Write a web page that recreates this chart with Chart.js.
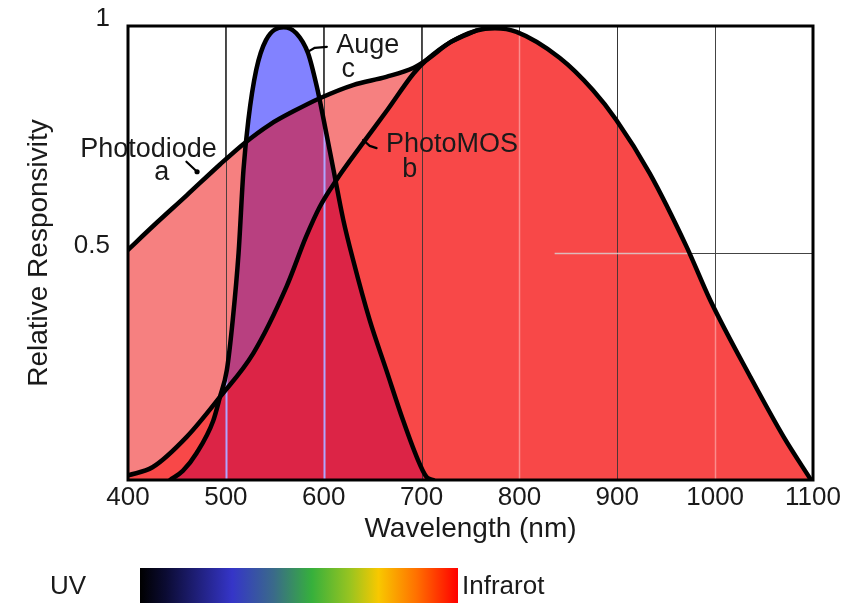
<!DOCTYPE html>
<html>
<head>
<meta charset="utf-8">
<script src="https://cdn.jsdelivr.net/npm/chart.js@4.4.1/dist/chart.umd.min.js"></script>
<style>
html,body{margin:0;padding:0;background:#fff;}
#wrap{width:864px;height:603px;position:relative;}
</style>
</head>
<body>
<div id="wrap"><canvas id="c"></canvas></div>
<script>
// ---------- data ----------
const xTicks = [400, 500, 600, 700, 800, 900, 1000, 1100];
const xTickLabels = ['400', '500', '600', '700', '800', '900', '1000', '1100'];
const yTicks = [0, 0.5, 1];
const yTickLabels = ['', '0.5', '1'];

// Photodiode (a)
const photodiodeWl  = [400, 426, 460, 494, 519, 545, 569, 596, 630, 664, 692, 705, 730, 756];
const photodiodeVal = [0.507, 0.56, 0.627, 0.695, 0.742, 0.783, 0.812, 0.841, 0.87, 0.888, 0.908, 0.925, 0.965, 0.99];

// PhotoMOS (b)
const photomosWl  = [400, 425, 460, 494, 528, 562, 582, 596, 613, 640, 665, 692, 705, 730, 756, 775, 797, 841, 875, 899, 933, 971, 995, 1036, 1070, 1098];
const photomosVal = [0.01, 0.028, 0.095, 0.183, 0.279, 0.426, 0.536, 0.602, 0.661, 0.742, 0.815, 0.896, 0.925, 0.965, 0.99, 0.995, 0.987, 0.93, 0.859, 0.793, 0.676, 0.513, 0.396, 0.227, 0.095, 0.0];

// Auge (c)
const augeWl  = [443, 456, 470, 487, 494, 501, 507, 513, 518, 523, 531, 541, 559, 572, 584, 593, 600, 610, 620, 630, 647, 664, 681, 695, 705, 712];
const augeVal = [0.0, 0.02, 0.059, 0.13, 0.183, 0.242, 0.352, 0.5, 0.683, 0.793, 0.903, 0.969, 0.997, 0.984, 0.94, 0.866, 0.793, 0.683, 0.573, 0.485, 0.352, 0.242, 0.132, 0.051, 0.007, 0.0];

const seriesNames = ['Photodiode', 'PhotoMOS', 'Auge'];

// ---------- annotation text (data coordinates) ----------
const annoTexts = [
  {text: 'Photodiode', x: 421, y: 0.711},
  {text: 'a', x: 434.5, y: 0.661},
  {text: 'Auge', x: 645, y: 0.94},
  {text: 'c', x: 625, y: 0.888},
  {text: 'PhotoMOS', x: 731, y: 0.722},
  {text: 'b', x: 688, y: 0.667}
];
const annoLeaders = [
  {pts: [[459.7, 0.701], [470.6, 0.679]], dot: true},
  {pts: [[583.7, 0.943], [590.9, 0.952], [603.2, 0.954]], dot: false},
  {pts: [[640.3, 0.749], [647, 0.736], [654, 0.731]], dot: false}
];

// ---------- styles ----------
const FONT = '"Liberation Sans", Arial, Helvetica, sans-serif';
const TEXT = '#1a1a1a';
const COL = {
  pink: 'rgb(246,128,128)',
  red: 'rgb(248,72,72)',
  blue: 'rgb(130,130,255)',
  purple: 'rgb(184,64,128)',
  crimson: 'rgb(220,36,70)'
};

function pts(wl, val) { return wl.map((w, i) => ({x: w, y: val[i]})); }

const layeredFill = {
  id: 'layeredFill',
  beforeDatasetsDraw(chart) {
    const ctx = chart.ctx, a = chart.chartArea;
    const xs = chart.scales.x, ys = chart.scales.y;
    const y0 = ys.getPixelForValue(0);
    const metas = [0, 1, 2].map(i => chart.getDatasetMeta(i));
    metas.forEach(m => m.dataset.updateControlPoints(a, 'x'));
    const area = (m) => {
      const p = m.data;
      ctx.beginPath();
      m.dataset.path(ctx);
      ctx.lineTo(p[p.length - 1].x, y0);
      ctx.lineTo(p[0].x, y0);
      ctx.closePath();
    };
    ctx.save();
    ctx.beginPath();
    ctx.rect(a.left, a.top, a.right - a.left, a.bottom - a.top);
    ctx.clip();
    area(metas[0]); ctx.fillStyle = COL.pink; ctx.fill();
    area(metas[1]); ctx.fillStyle = COL.red; ctx.fill();
    area(metas[2]); ctx.fillStyle = COL.blue; ctx.fill();
    ctx.save();
    area(metas[2]); ctx.clip();
    area(metas[0]); ctx.fillStyle = COL.purple; ctx.fill();
    area(metas[1]); ctx.fillStyle = COL.crimson; ctx.fill();
    ctx.restore();

    // grid lines seen through fills
    const vline = (v, color, w) => {
      const x = Math.round(xs.getPixelForValue(v)) + 0.5;
      ctx.beginPath(); ctx.moveTo(x, a.top); ctx.lineTo(x, a.bottom);
      ctx.strokeStyle = color; ctx.lineWidth = w; ctx.stroke();
    };
    [500, 600, 700, 900].forEach(v => vline(v, 'rgba(50,50,50,0.85)', 1));
    ctx.save();
    area(metas[1]); ctx.clip();
    [800, 1000].forEach(v => vline(v, 'rgba(255,225,225,0.45)', 1.5));
    const yh = Math.round(ys.getPixelForValue(0.5)) + 0.5;
    ctx.beginPath(); ctx.moveTo(xs.getPixelForValue(836), yh); ctx.lineTo(a.right, yh);
    ctx.strokeStyle = 'rgba(215,215,215,0.8)'; ctx.lineWidth = 1.5; ctx.stroke();
    ctx.restore();
    ctx.save();
    area(metas[2]); ctx.clip();
    [500, 600].forEach(v => vline(v, 'rgb(175,165,255)', 2));
    ctx.restore();
    ctx.restore();
  },
  afterDatasetsDraw(chart) {
    const ctx = chart.ctx, a = chart.chartArea;
    const xs = chart.scales.x, ys = chart.scales.y;
    ctx.save();
    // plot frame
    ctx.strokeStyle = '#000';
    ctx.lineWidth = 3;
    ctx.strokeRect(a.left, a.top, a.right - a.left, a.bottom - a.top);
    // leaders
    ctx.lineWidth = 2.2;
    ctx.lineCap = 'round';
    ctx.lineJoin = 'round';
    annoLeaders.forEach(l => {
      ctx.beginPath();
      l.pts.forEach((p, i) => {
        const px = xs.getPixelForValue(p[0]), py = ys.getPixelForValue(p[1]);
        if (i === 0) ctx.moveTo(px, py); else ctx.lineTo(px, py);
      });
      ctx.stroke();
      if (l.dot) {
        const last = l.pts[l.pts.length - 1];
        ctx.beginPath();
        ctx.arc(xs.getPixelForValue(last[0]), ys.getPixelForValue(last[1]), 2.6, 0, Math.PI * 2);
        ctx.fillStyle = '#000'; ctx.fill();
      }
    });
    // texts
    ctx.fillStyle = TEXT;
    ctx.font = '27px ' + FONT;
    ctx.textAlign = 'center';
    ctx.textBaseline = 'alphabetic';
    annoTexts.forEach(t => {
      ctx.fillText(t.text, xs.getPixelForValue(t.x), ys.getPixelForValue(t.y));
    });
    ctx.restore();
  },
  afterDraw(chart) {
    const ctx = chart.ctx;
    ctx.save();
    const bx0 = 140, bx1 = 458, by0 = 568, by1 = 603;
    const g = ctx.createLinearGradient(bx0, 0, bx1, 0);
    g.addColorStop(0.0, '#000000');
    g.addColorStop(0.08, '#0b0b32');
    g.addColorStop(0.29, '#3535c8');
    g.addColorStop(0.42, '#3a6a8a');
    g.addColorStop(0.54, '#36b03c');
    g.addColorStop(0.66, '#98c420');
    g.addColorStop(0.75, '#f8c800');
    g.addColorStop(0.87, '#ff7000');
    g.addColorStop(1.0, '#ff0000');
    ctx.fillStyle = g;
    ctx.fillRect(bx0, by0, bx1 - bx0, by1 - by0);
    ctx.fillStyle = TEXT;
    ctx.font = '26px ' + FONT;
    ctx.textBaseline = 'middle';
    ctx.textAlign = 'center';
    ctx.fillText('UV', 68, 587);
    ctx.textAlign = 'left';
    ctx.fillText('Infrarot', 462, 587);
    ctx.restore();
  }
};

const lineStyle = {
  borderColor: '#000',
  borderWidth: 4.5,
  pointRadius: 0,
  pointHoverRadius: 0,
  fill: false,
  cubicInterpolationMode: 'monotone',
  borderCapStyle: 'round',
  borderJoinStyle: 'round'
};

new Chart(document.getElementById('c'), {
  type: 'line',
  data: {
    datasets: [
      Object.assign({label: seriesNames[0], data: pts(photodiodeWl, photodiodeVal)}, lineStyle),
      Object.assign({label: seriesNames[1], data: pts(photomosWl, photomosVal)}, lineStyle),
      Object.assign({label: seriesNames[2], data: pts(augeWl, augeVal)}, lineStyle)
    ]
  },
  options: {
    responsive: true,
    maintainAspectRatio: false,
    animation: false,
    events: [],
    layout: {padding: {left: 0, right: 51, top: 26, bottom: 55}},
    plugins: {legend: {display: false}, tooltip: {enabled: false}},
    scales: {
      x: {
        type: 'linear',
        min: 400, max: 1100,
        afterBuildTicks(s) { s.ticks = xTicks.map(v => ({value: v})); },
        afterFit(s) { s.height = 68; s.paddingLeft = 0; s.paddingRight = 0; },
        ticks: {
          autoSkip: false, maxRotation: 0, padding: 2,
          color: TEXT, font: {family: FONT, size: 26},
          callback(v) { const i = xTicks.indexOf(v); return i >= 0 ? xTickLabels[i] : ''; }
        },
        grid: {color: '#444', lineWidth: 1, drawTicks: false},
        border: {display: false},
        title: {display: true, text: 'Wavelength (nm)', color: TEXT, font: {family: FONT, size: 28}, padding: {top: 0, bottom: 2}}
      },
      y: {
        type: 'linear',
        min: 0, max: 1,
        afterBuildTicks(s) { s.ticks = yTicks.map(v => ({value: v})); },
        afterFit(s) { s.width = 128; s.paddingTop = 0; s.paddingBottom = 0; },
        ticks: {
          padding: 18, labelOffset: -7,
          color: TEXT, font: {family: FONT, size: 26},
          callback(v) { const i = yTicks.indexOf(v); return i >= 0 ? yTickLabels[i] : ''; }
        },
        grid: {color: '#444', lineWidth: 1, drawTicks: false},
        border: {display: false},
        title: {display: true, text: 'Relative Responsivity', color: TEXT, font: {family: FONT, size: 28}, padding: {top: 22, bottom: 0}}
      }
    }
  },
  plugins: [layeredFill]
});
</script>
</body>
</html>
